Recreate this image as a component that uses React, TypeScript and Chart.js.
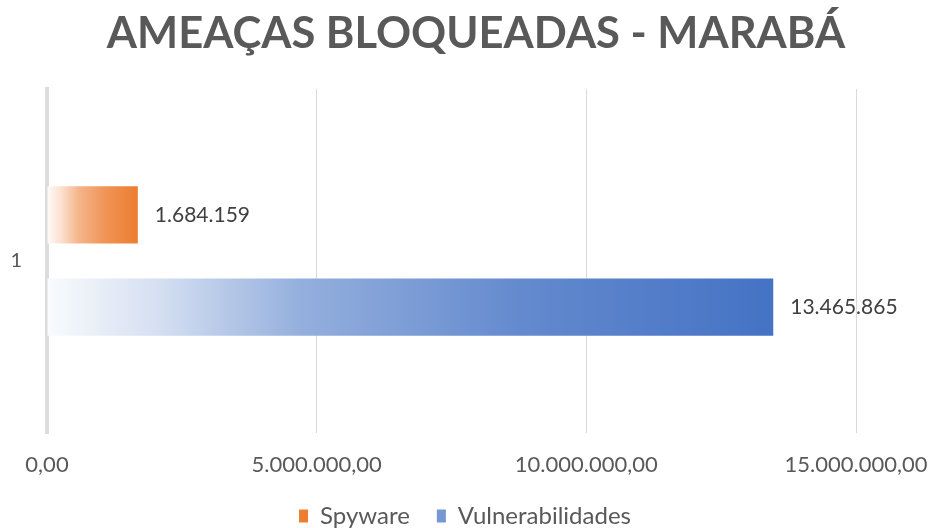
import React, { useEffect, useRef } from "react";
import { Chart, registerables } from "chart.js";

Chart.register(...registerables);

const chartTitle = "AMEAÇAS BLOQUEADAS - MARABÁ";
const categories = ["1"];
const seriesNames = ["Spyware", "Vulnerabilidades"];
const spywareValues = [1684159];
const vulnValues = [13465865];
const xTickValues = [0, 5000000, 10000000, 15000000];

const ORANGE = "#ED7D31";
const BLUE = "#4472C4";

function mix(hex: string, t: number) {
  const r = parseInt(hex.slice(1, 3), 16);
  const g = parseInt(hex.slice(3, 5), 16);
  const b = parseInt(hex.slice(5, 7), 16);
  const m = (c: number) => Math.round(255 + (c - 255) * t);
  return `rgb(${m(r)},${m(g)},${m(b)})`;
}

function fmtThousands(n: number) {
  const s = Math.round(Math.abs(n)).toString();
  return s.replace(/\B(?=(\d{3})+(?!\d))/g, ".");
}

function fmtTick(n: number) {
  return fmtThousands(n) + ",00";
}

function gradientFor(color: string) {
  return (ctx: any) => {
    const chart = ctx.chart;
    if (!chart.chartArea || !chart.scales.x) return color;
    const xs = chart.scales.x;
    const v = ctx.raw;
    if (typeof v !== "number") return color;
    const x0 = xs.getPixelForValue(0);
    const x1 = xs.getPixelForValue(v);
    if (!isFinite(x0) || !isFinite(x1) || x1 <= x0) return color;
    const g = chart.ctx.createLinearGradient(x0, 0, x1, 0);
    g.addColorStop(0, mix(color, 0.03));
    g.addColorStop(0.15, mix(color, 0.22));
    g.addColorStop(0.35, mix(color, 0.57));
    g.addColorStop(0.65, mix(color, 0.83));
    g.addColorStop(1, mix(color, 1));
    return g;
  };
}

const titlePlugin = {
  id: "customTitle",
  afterDraw(chart: any) {
    const ctx = chart.ctx;
    ctx.save();
    ctx.font = "bold 43.5px Lato";
    ctx.fillStyle = "#595959";
    ctx.textAlign = "center";
    ctx.textBaseline = "middle";
    ctx.fillText(chartTitle, chart.width / 2 + 11, 34);
    ctx.restore();
  },
};

const dataLabelPlugin = {
  id: "dataLabels",
  afterDatasetsDraw(chart: any) {
    const ctx = chart.ctx;
    ctx.save();
    ctx.font = "21px Lato";
    ctx.fillStyle = "#404040";
    ctx.textAlign = "left";
    ctx.textBaseline = "middle";
    chart.data.datasets.forEach((ds: any, di: number) => {
      const meta = chart.getDatasetMeta(di);
      meta.data.forEach((bar: any, i: number) => {
        const v = ds.data[i];
        ctx.fillText(fmtThousands(v), bar.x + 17, bar.y);
      });
    });
    ctx.restore();
  },
};

export default function App() {
  const ref = useRef<HTMLCanvasElement | null>(null);
  useEffect(() => {
    if (!ref.current) return;
    const chart = new Chart(ref.current, {
      type: "bar",
      data: {
        labels: categories,
        datasets: [
          {
            label: seriesNames[0],
            data: spywareValues,
            backgroundColor: gradientFor(ORANGE) as any,
            borderWidth: 0,
          },
          {
            label: seriesNames[1],
            data: vulnValues,
            backgroundColor: gradientFor(BLUE) as any,
            borderWidth: 0,
          },
        ],
      },
      plugins: [dataLabelPlugin, titlePlugin],
      options: {
        indexAxis: "y",
        animation: false,
        responsive: false,
        maintainAspectRatio: false,
        categoryPercentage: 0.536,
        barPercentage: 0.62,
        layout: { padding: { left: 0, right: 0, top: 89, bottom: -10 } },
        scales: {
          x: {
            min: 0,
            max: 15000000,
            afterBuildTicks: (axis: any) => {
              axis.ticks = xTickValues.map((v) => ({ value: v }));
            },
            afterFit: (axis: any) => {
              axis.paddingRight = 74;
              axis.paddingLeft = 0;
              axis.height = 44;
            },
            grid: { color: "#D9D9D9", lineWidth: 1, drawTicks: false },
            border: { display: false },
            ticks: {
              padding: 19,
              color: "#595959",
              font: { family: "Lato", size: 22 },
              maxRotation: 0,
              callback: (v: any) => fmtTick(Number(v)),
            },
          },
          y: {
            afterFit: (axis: any) => {
              axis.width = 47;
            },
            grid: { display: false, drawTicks: false },
            border: { display: true, color: "#DCDCDC", width: 4 },
            ticks: {
              padding: 25,
              color: "#595959",
              font: { family: "Lato", size: 20 },
            },
          },
        },
        plugins: {
          title: { display: false },
          legend: {
            position: "bottom",
            labels: {
              color: "#595959",
              font: { family: "Lato", size: 24, lineHeight: 1.0 },
              boxWidth: 9,
              boxHeight: 13,
              padding: 27,
            },
          },
          tooltip: { enabled: false },
        },
      },
    });
    return () => chart.destroy();
  }, []);
  return (
    <div style={{ position: "absolute", left: 0, top: 0, width: 930, height: 528, background: "#fff" }}>
      <canvas ref={ref} width={930} height={528} style={{ width: 930, height: 528, display: "block" }} />
    </div>
  );
}
